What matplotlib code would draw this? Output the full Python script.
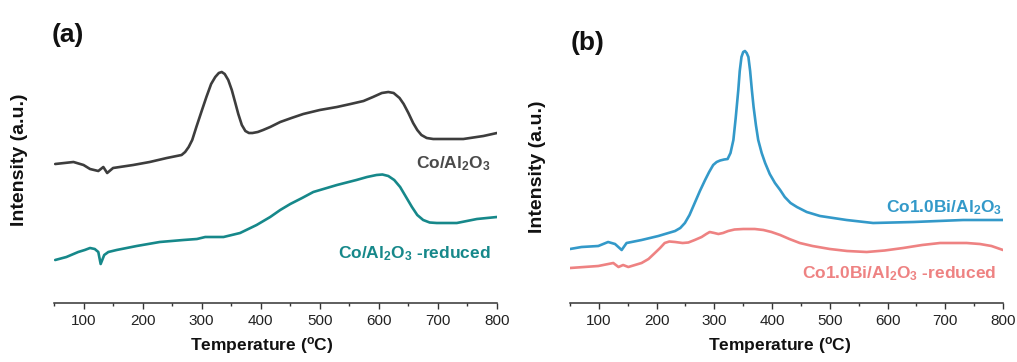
import matplotlib
matplotlib.use("Agg")
import matplotlib.pyplot as plt
from matplotlib.ticker import MultipleLocator

plt.rcParams['font.family'] = ['Liberation Sans', 'DejaVu Sans']
plt.rcParams['mathtext.default'] = 'regular'

# ---- H2-TPR profiles, panel (a) ----
temp_co = [52, 83, 100, 111, 125, 133.5, 140, 150, 184, 212, 241, 266, 272, 278,
           284, 291, 300, 308, 316, 323, 329, 334, 339, 345, 351, 357, 362, 368,
           374, 380, 386, 395, 404, 416, 433, 452, 472, 500, 529, 552, 574, 590,
           605, 616, 625, 635, 642, 650, 658, 665, 672, 681, 692, 703, 743, 777,
           800]
int_co = [139, 141, 138, 134, 132, 136, 130, 135, 138, 141, 145, 148, 151, 156,
          163, 176, 192, 206, 219, 226, 230, 231, 229, 223, 213, 200, 189, 178,
          172, 170, 170, 171, 173, 176, 181, 185, 189, 193, 196, 199, 202, 206,
          210, 211, 210, 205, 199, 190, 180, 173, 168, 165, 164, 164, 164, 167,
          170]

temp_co_red = [52, 71, 91, 102, 111, 119, 125, 129, 135, 142, 156, 190, 229, 269,
               292, 306, 337, 365, 393, 416, 433, 450, 470, 489, 529, 562, 580,
               596, 606, 616, 626, 636, 646, 656, 665, 675, 686, 698, 732, 766,
               800]
int_co_red = [43, 46, 51, 53, 55, 54, 51, 39, 48, 51, 53, 57, 61, 63, 64, 66, 66,
              70, 78, 86, 93, 99, 105, 111, 118, 123, 126, 128, 128.5, 127, 123,
              116, 106, 96, 88, 83, 80.5, 80, 80, 84, 86]

# ---- H2-TPR profiles, panel (b) ----
temp_bi = [50, 70, 99, 116, 128, 139.5, 148, 174, 203, 232, 241, 249, 257, 266,
           275, 284, 291, 298, 304, 310, 317, 323, 328, 333, 337, 341.5, 344, 347,
           350, 353, 356, 359, 362, 365, 368, 372, 376, 382, 388, 396, 405, 414,
           422, 432, 443, 460, 483, 529, 575, 645, 731, 800]
int_bi = [54, 56, 57, 61, 59, 53, 60, 63, 67, 72, 75, 80, 88, 100, 112, 123, 131,
          138, 141, 142.5, 143.5, 144, 150, 163, 185, 213, 232, 246, 251, 252,
          250, 246, 232, 213, 196, 178, 163, 150, 140, 129, 120, 113, 106, 100,
          96, 91, 87, 83, 80, 81, 83, 83]

temp_bi_red = [50, 99, 125, 134, 142, 151, 174, 186, 197, 206, 214, 222, 232, 245,
               255, 266, 278, 286, 292, 300, 307, 315, 324, 335, 350, 370, 385,
               399, 414, 430, 448, 470, 500, 530, 564, 595, 627, 660, 691, 715,
               737, 760, 780, 800]
int_bi_red = [35, 37, 40, 36, 38, 36, 40, 44, 50, 55, 60, 61.5, 61, 60, 60.5, 63,
              66, 69, 71, 70, 69, 70, 72, 73.5, 74, 74, 73, 71, 68, 64, 60, 57,
              54, 52, 51, 52.5, 55, 58, 60, 60, 60, 59, 57, 53]

xticks = [100, 200, 300, 400, 500, 600, 700, 800]

C_GRAY = '#3d3d3d'
C_TEAL = '#16888a'
C_BLUE = '#3399c9'
C_RED = '#ee8282'

fig = plt.figure(figsize=(10.17, 3.62), dpi=100)
W, H = 1017.0, 362.0
ax_a = fig.add_axes([54 / W, 1 - 303 / H, 443 / W, 263 / H])
ax_b = fig.add_axes([570 / W, 1 - 303 / H, 433 / W, 263 / H])

for ax in (ax_a, ax_b):
    ax.set_xlim(50, 800)
    ax.set_ylim(0, 263)
    for s in ('left', 'right', 'top'):
        ax.spines[s].set_visible(False)
    ax.spines['bottom'].set_color('#333333')
    ax.spines['bottom'].set_linewidth(1.1)
    ax.set_yticks([])
    ax.set_xticks(xticks)
    ax.xaxis.set_minor_locator(MultipleLocator(50))
    ax.tick_params(axis='x', which='major', length=4.5, width=1.0,
                   color='#333333', labelsize=11, labelcolor='#222222', pad=3.5)
    ax.tick_params(axis='x', which='minor', length=2.5, width=1.0, color='#333333')
    ax.patch.set_alpha(0)

line_kw = dict(lw=1.9, solid_capstyle='round', solid_joinstyle='round')
ax_a.plot(temp_co, int_co, color=C_GRAY, **line_kw)
ax_a.plot(temp_co_red, int_co_red, color=C_TEAL, **line_kw)
ax_b.plot(temp_bi, int_bi, color=C_BLUE, **line_kw)
ax_b.plot(temp_bi_red, int_bi_red, color=C_RED, **line_kw)

lab_kw = dict(ha='right', va='baseline', fontsize=12.5, fontweight='bold')
ax_a.text(0.986, 0.511, r'Co/Al$_2$O$_3$', color='#4a4a4a',
          transform=ax_a.transAxes, **lab_kw)
ax_a.text(0.986, 0.170, r'Co/Al$_2$O$_3$ -reduced', color=C_TEAL,
          transform=ax_a.transAxes, **lab_kw)
ax_b.text(0.998, 0.343, r'Co1.0Bi/Al$_2$O$_3$', color=C_BLUE,
          transform=ax_b.transAxes, **lab_kw)
ax_b.text(0.985, 0.094, r'Co1.0Bi/Al$_2$O$_3$ -reduced', color=C_RED,
          transform=ax_b.transAxes, **lab_kw)

# panel letters
fig.text(52 / W, 1 - 42 / H, '(a)', fontsize=19, fontweight='bold',
         ha='left', va='baseline', color='#111111')
fig.text(571 / W, 1 - 50 / H, '(b)', fontsize=19, fontweight='bold',
         ha='left', va='baseline', color='#111111')

# axis titles
for xc in (261.5 / W, 780 / W):
    fig.text(xc, 1 - 350 / H, r'Temperature ($^{o}$C)', fontsize=12.5,
             fontweight='bold', ha='center', va='baseline', color='#111111')
fig.text(20 / W, 1 - 160 / H, 'Intensity (a.u.)', fontsize=14,
         fontweight='bold', rotation=90, ha='center', va='center', color='#111111')
fig.text(538 / W, 1 - 167 / H, 'Intensity (a.u.)', fontsize=14,
         fontweight='bold', rotation=90, ha='center', va='center', color='#111111')

fig.savefig('out.png', dpi=100, facecolor='white')
